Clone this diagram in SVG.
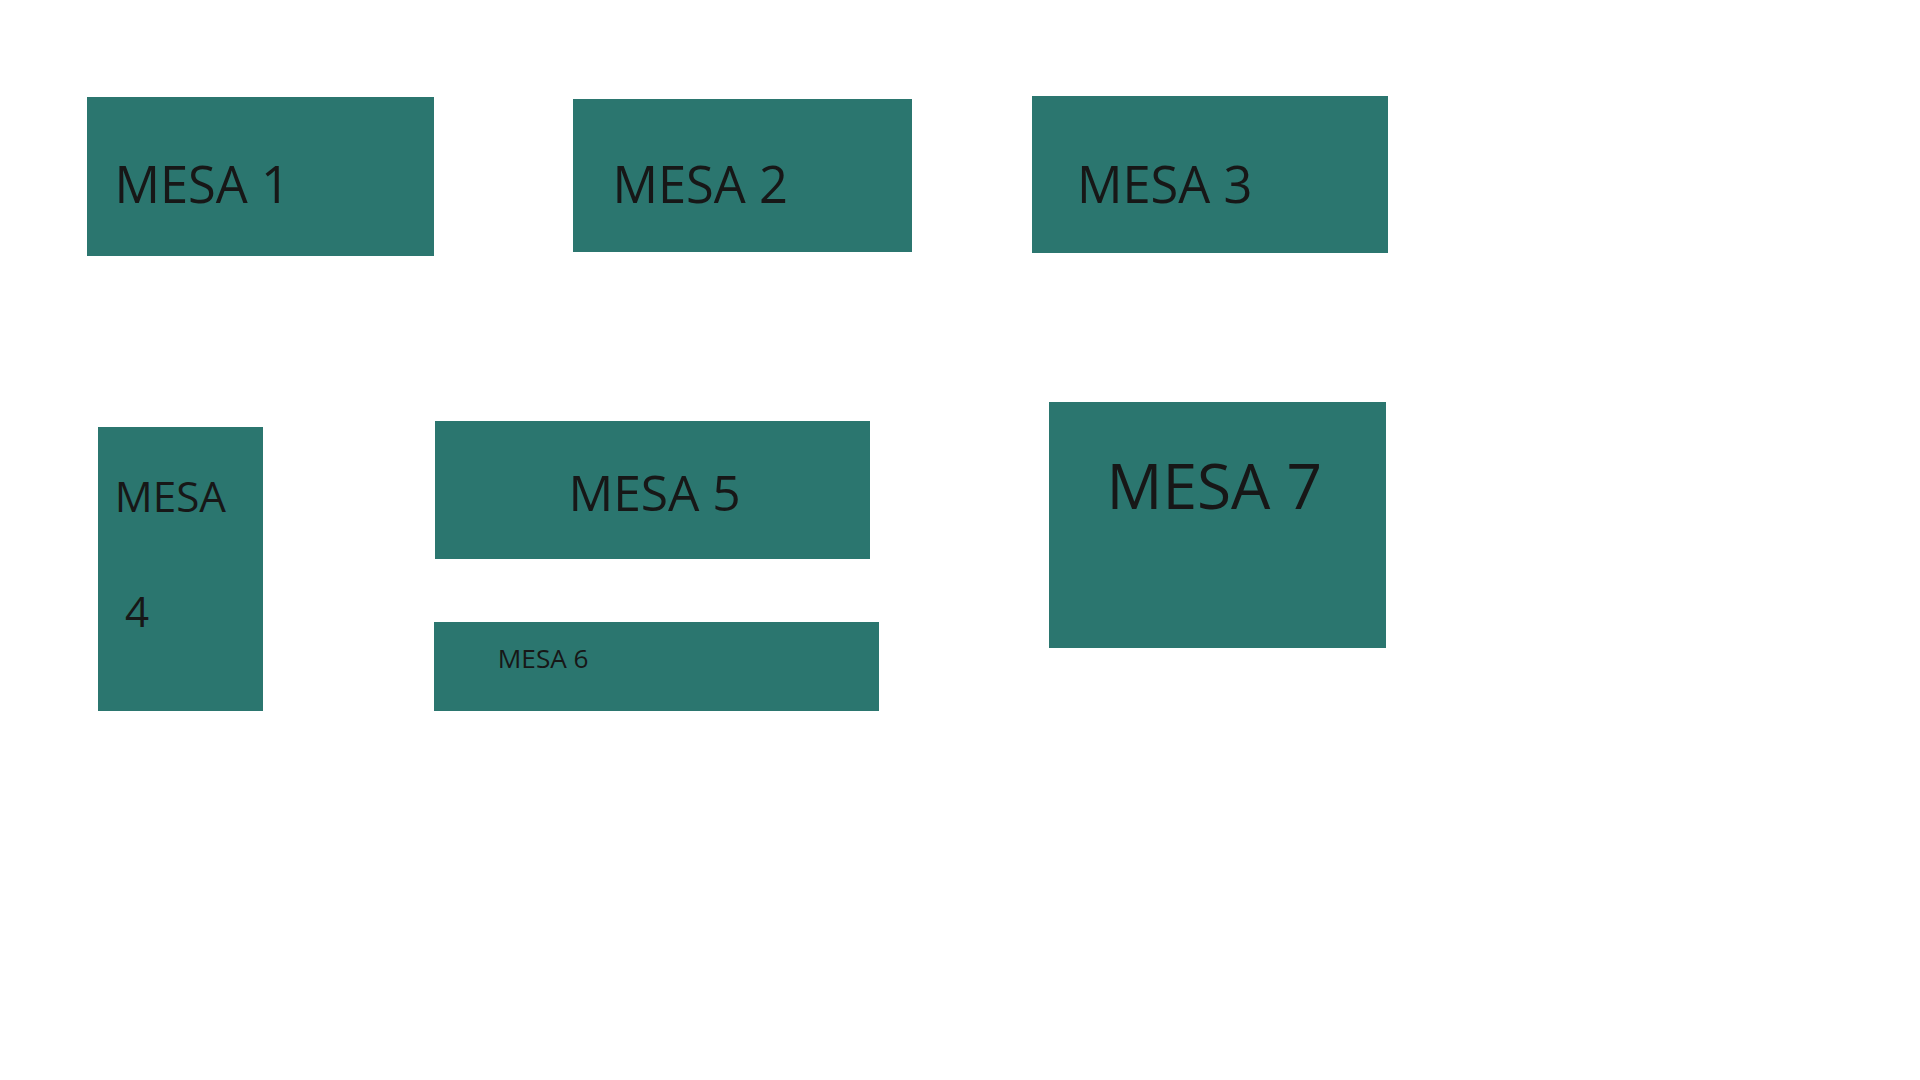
<svg xmlns="http://www.w3.org/2000/svg" width="1920" height="1080" viewBox="0 0 1920 1080">
<style>
.t{fill:#2b766f}
.l{fill:#171717;font-family:"Open Sans","Noto Sans",sans-serif}
</style>
<rect width="1920" height="1080" fill="#ffffff"/>
<g id="mesa1"><rect class="t" x="87" y="97" width="347" height="159"/><text class="l" x="114.5" y="203" font-size="50.6">MESA 1</text></g>
<g id="mesa2"><rect class="t" x="573" y="99" width="339" height="153"/><text class="l" x="612.5" y="203" font-size="50.6">MESA 2</text></g>
<g id="mesa3"><rect class="t" x="1032" y="96" width="356" height="157"/><text class="l" x="1077" y="203.3" font-size="50.6">MESA 3</text></g>
<g id="mesa4"><rect class="t" x="98" y="427" width="165" height="284"/><text class="l" font-size="42.2"><tspan x="114.8" y="512.3">MESA</tspan><tspan x="125" y="626.7">4</tspan></text></g>
<g id="mesa5"><rect class="t" x="435" y="421" width="435" height="138"/><text class="l" x="568.5" y="511" font-size="49.7">MESA 5</text></g>
<g id="mesa6"><rect class="t" x="434" y="622" width="445" height="89"/><text class="l" x="497.8" y="667.7" font-size="26.2">MESA 6</text></g>
<g id="mesa7"><rect class="t" x="1049" y="402" width="337" height="246"/><text class="l" x="1106.5" y="509.3" font-size="62.2">MESA 7</text></g>
<g id="connectors"></g>
</svg>
